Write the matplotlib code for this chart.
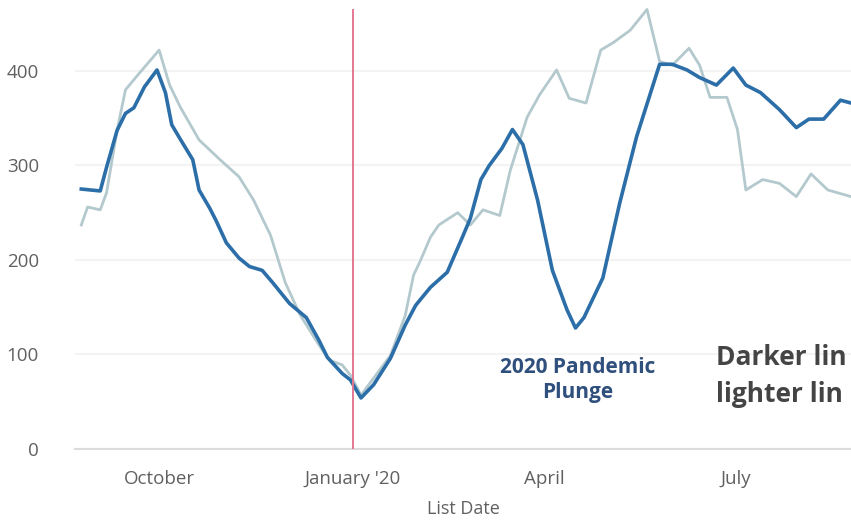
import pandas as pd
import matplotlib
matplotlib.use("Agg")
from matplotlib import pyplot as plt

# dark line (current year) - list date vs count
dark_dates = ["2019-08-25", "2019-09-03", "2019-09-06", "2019-09-11", "2019-09-15",
              "2019-09-19", "2019-09-24", "2019-09-30", "2019-10-04", "2019-10-07",
              "2019-10-11", "2019-10-17", "2019-10-20", "2019-10-25", "2019-10-28",
              "2019-11-02", "2019-11-08", "2019-11-13", "2019-11-19", "2019-11-24",
              "2019-12-02", "2019-12-10", "2019-12-16", "2019-12-20", "2019-12-27",
              "2019-12-31", "2020-01-05", "2020-01-11", "2020-01-19", "2020-01-26",
              "2020-01-31", "2020-02-07", "2020-02-15", "2020-02-22", "2020-02-26",
              "2020-03-02", "2020-03-06", "2020-03-12", "2020-03-17", "2020-03-22",
              "2020-03-29", "2020-04-05", "2020-04-12", "2020-04-16", "2020-04-20",
              "2020-04-29", "2020-05-07", "2020-05-15", "2020-05-26", "2020-06-01",
              "2020-06-08", "2020-06-14", "2020-06-22", "2020-06-30", "2020-07-06",
              "2020-07-13", "2020-07-22", "2020-07-30", "2020-08-05", "2020-08-12",
              "2020-08-20", "2020-08-25"]
dark_vals = [275, 273, 298, 337, 355, 361, 383, 401, 377, 343,
             328, 306, 274, 255, 242, 218, 202, 193, 189, 176,
             154, 139, 115, 97, 80, 73, 54, 68, 96, 131,
             152, 171, 187, 223, 244, 285, 300, 318, 338, 322,
             263, 189, 147, 128, 139, 181, 260, 330, 407, 407,
             401, 393, 385, 403, 385, 377, 359, 340, 349, 349,
             369, 366]

# lighter line (prior year)
light_dates = ["2019-08-25", "2019-08-28", "2019-09-03", "2019-09-06", "2019-09-11",
               "2019-09-15", "2019-09-21", "2019-10-01", "2019-10-06", "2019-10-11",
               "2019-10-20", "2019-10-30", "2019-11-08", "2019-11-15", "2019-11-23",
               "2019-11-30", "2019-12-07", "2019-12-16", "2019-12-21", "2019-12-27",
               "2019-12-31", "2020-01-05", "2020-01-19", "2020-01-26", "2020-01-30",
               "2020-02-02", "2020-02-07", "2020-02-11", "2020-02-20", "2020-02-26",
               "2020-03-03", "2020-03-11", "2020-03-16", "2020-03-24", "2020-03-30",
               "2020-04-07", "2020-04-13", "2020-04-21", "2020-04-28", "2020-05-04",
               "2020-05-12", "2020-05-20", "2020-05-26", "2020-06-01", "2020-06-09",
               "2020-06-14", "2020-06-19", "2020-06-27", "2020-07-02", "2020-07-06",
               "2020-07-14", "2020-07-22", "2020-07-30", "2020-08-06", "2020-08-14",
               "2020-08-25"]
light_vals = [237, 256, 253, 271, 337, 380, 396, 422, 385, 362,
              327, 306, 288, 263, 226, 176, 142, 110, 94, 89,
              78, 57, 99, 141, 184, 198, 224, 237, 250, 237,
              253, 247, 295, 351, 375, 401, 371, 366, 422, 430,
              443, 465, 410, 406, 424, 406, 372, 372, 338, 274,
              285, 281, 267, 291, 274, 267]

tick_dates = ["2019-10-01", "2020-01-01", "2020-04-01", "2020-07-01"]
tick_labels = ["October", "January '20", "April", "July"]
y_ticks = [0, 100, 200, 300, 400]
marker_date = "2020-01-01"

dark_x = pd.to_datetime(dark_dates)
light_x = pd.to_datetime(light_dates)

fig = plt.figure(figsize=(8.51, 5.24), dpi=100)
ax = fig.add_axes([75 / 851, 75 / 524, 776 / 851, 449 / 524])

ax.plot(light_x, light_vals, color="#b3c9cd", lw=2.0, zorder=2)
ax.plot(dark_x, dark_vals, color="#2c6ea8", lw=2.6, zorder=3)
ax.axvline(pd.Timestamp(marker_date), ymax=439 / 449, color="#e27890", lw=1.4, zorder=4)

ax.set_xlim(pd.Timestamp("2019-08-22"), pd.Timestamp("2020-08-25"))
ax.set_ylim(0, 475)

ax.set_yticks(y_ticks)
ax.set_xticks(pd.to_datetime(tick_dates))
ax.set_xticklabels(tick_labels)
ax.grid(axis="y", color="#f3f3f3", lw=1.5)
ax.set_axisbelow(True)

for side in ["top", "right", "left"]:
    ax.spines[side].set_visible(False)
ax.spines["bottom"].set_color("#dcdcdc")
ax.spines["bottom"].set_linewidth(1.5)
ax.tick_params(length=0, colors="#606060", labelsize=13.5)
ax.tick_params(axis="y", pad=26)
ax.tick_params(axis="x", pad=15)
for lbl in ax.get_xticklabels() + ax.get_yticklabels():
    lbl.set_fontfamily("Open Sans")

ax.set_xlabel("List Date", fontsize=13, color="#606060", family="Open Sans", labelpad=9)

ax.text(pd.Timestamp("2020-04-17"), 73, "2020 Pandemic\nPlunge", ha="center", va="center",
        fontsize=15, fontweight="bold", color="#2f4f7c", family="Open Sans", linespacing=1.2)
# the reference crops this note at the right edge; keep only the part that shows
ax.text(pd.Timestamp("2020-06-22"), 77, "Darker lin\nlighter lin", ha="left", va="center",
        fontsize=19, fontweight="bold", color="#444444", family="Open Sans", linespacing=1.5)

fig.savefig("out.png", dpi=100)
